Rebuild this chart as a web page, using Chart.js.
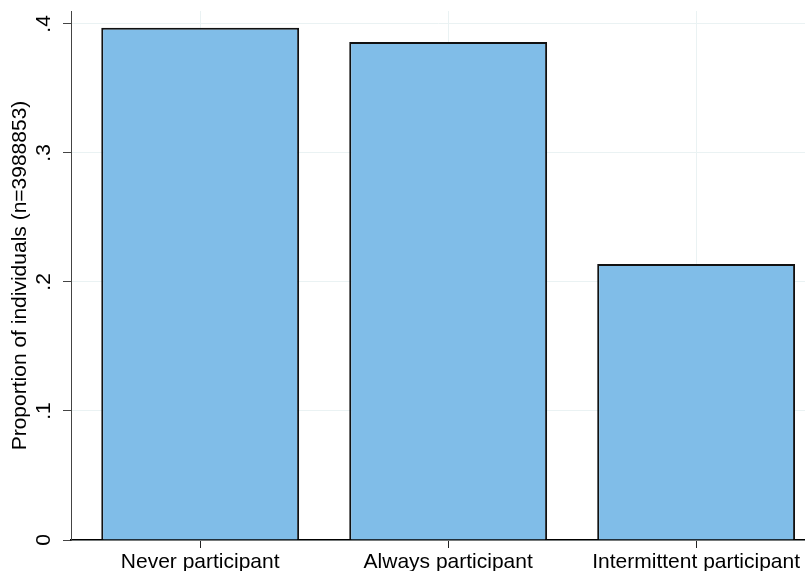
<!DOCTYPE html>
<html>
<head>
<meta charset="utf-8">
<script src="https://cdn.jsdelivr.net/npm/chart.js@4.4.1/dist/chart.umd.min.js"></script>
<style>
  html, body { margin: 0; padding: 0; background: #fff; }
  #wrap { width: 805px; height: 571px; position: relative; }
</style>
</head>
<body>
<div id="wrap"><canvas id="grafico"></canvas></div>
<script>
// dados
const categorias = ['Never participant', 'Always participant', 'Intermittent participant'];
const posicoes = [1, 2, 3];
const proporcoes = [0.397, 0.386, 0.214];
const yTicks = [0, 0.1, 0.2, 0.3, 0.4];
const tituloY = 'Proportion of individuals (n=3988853)';

const FONTE = 'Helvetica, "Liberation Sans", Arial, sans-serif';
const GRADE = '#eaf2f3';

// formato do Stata: .1 .2 ... sem o zero inicial
function rotuloY(v) {
    if (v === 0) return '0';
    return String(Math.round(v * 10) / 10).replace(/^0\./, '.');
}

const pontos = posicoes.map((p, i) => ({ x: p, y: proporcoes[i] }));

new Chart(document.getElementById('grafico'), {
    type: 'bar',
    data: {
        datasets: [{
            data: pontos,
            backgroundColor: '#80bde8',
            borderColor: '#111111',
            borderWidth: 2,
            categoryPercentage: 1,
            barPercentage: 0.798
        }]
    },
    options: {
        responsive: true,
        maintainAspectRatio: false,
        animation: false,
        layout: { padding: { top: 11, left: 0, right: 0, bottom: 0 } },
        plugins: { legend: { display: false }, tooltip: { enabled: false } },
        scales: {
            x: {
                type: 'linear',
                offset: false,
                min: 0.479,
                max: 3.439,
                afterBuildTicks: s => { s.ticks = posicoes.map(v => ({ value: v })); },
                afterFit: s => { s.height = 31; s.paddingLeft = 0; s.paddingRight = 0; },
                grid: { color: GRADE, lineWidth: 1, tickColor: '#222', tickLength: 8, offset: false },
                border: { color: '#000', width: 1.5 },
                ticks: {
                    color: '#000',
                    font: { family: FONTE, size: 21 },
                    padding: 2,
                    maxRotation: 0,
                    autoSkip: false,
                    callback: v => categorias[posicoes.indexOf(v)] || ''
                }
            },
            y: {
                min: 0,
                max: 0.41,
                afterBuildTicks: s => { s.ticks = yTicks.map(v => ({ value: v })); },
                afterFit: s => { s.width = 71; s.paddingTop = 0; s.paddingBottom = 0; },
                grid: { color: GRADE, lineWidth: 1, tickColor: '#444', tickLength: 8 },
                border: { color: '#444', width: 1 },
                ticks: {
                    color: '#000',
                    font: { family: FONTE, size: 21 },
                    minRotation: 90,
                    maxRotation: 90,
                    crossAlign: 'center',
                    padding: 10,
                    callback: v => rotuloY(v)
                },
                title: {
                    display: true,
                    text: tituloY,
                    color: '#000',
                    font: { family: FONTE, size: 21 },
                    padding: { top: 8, bottom: 0 }
                }
            }
        }
    }
});
</script>
</body>
</html>
